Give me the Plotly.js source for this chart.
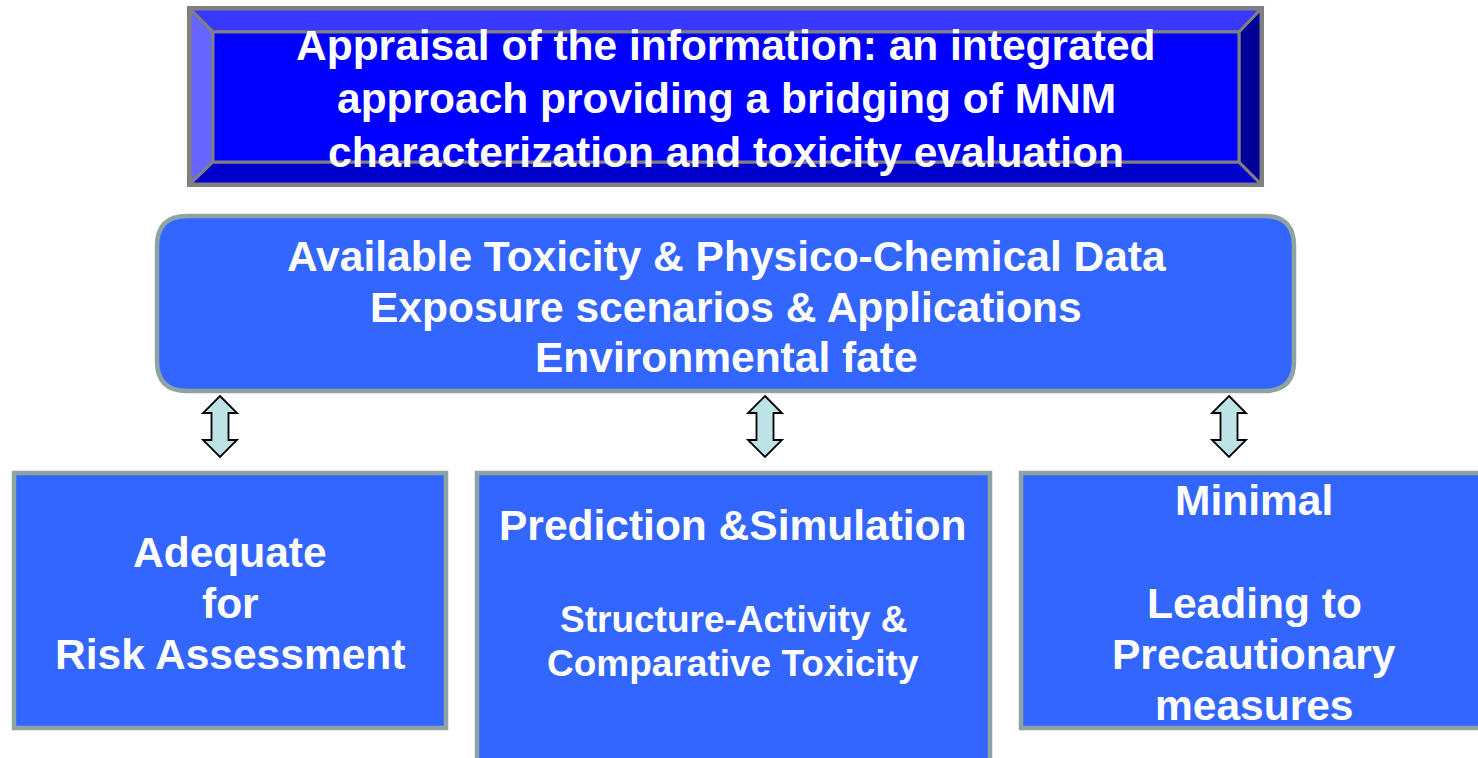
<!DOCTYPE html>
<html>
<head>
<meta charset="utf-8">
<script src="https://cdn.plot.ly/plotly-3.0.1.min.js"></script>
<style>html,body{margin:0;padding:0;background:#fff;}#chart{width:1478px;height:758px;}</style>
</head>
<body>
<div id="chart"></div>
<script>
// ---- text content (data) ----
const titleLines = ["Appraisal of the information: an integrated", "approach providing a bridging of MNM", "characterization and toxicity evaluation"];
const centerLines = ["Available Toxicity & Physico-Chemical Data", "Exposure scenarios & Applications", "Environmental fate"];
const box1Lines = ["Adequate", "for", "Risk Assessment"];
const box2Heading = ["Prediction &Simulation"];
const box2Lines = ["Structure-Activity &", "Comparative Toxicity"];
const box3Lines = ["Minimal", "Leading to", "Precautionary", "measures"];

// ---- layout helpers ----
const FONT = "Liberation Sans, Arial, sans-serif";
const shapes = [];
const annotations = [];

function rectPath(x0, y0, x1, y1) { return `M${x0},${y0} L${x1},${y0} L${x1},${y1} L${x0},${y1} Z`; }
function poly(pts) { return "M" + pts.map(p => p.join(",")).join(" L") + " Z"; }
function addPath(path, fill, lineColor, lineWidth) {
  shapes.push({type: "path", xref: "x", yref: "y", path: path, fillcolor: fill,
    line: {color: lineColor, width: lineWidth}, layer: "above"});
}
function addText(txt, x, y, size) {
  annotations.push({text: txt, x: x, y: y, xref: "x", yref: "y", showarrow: false,
    xanchor: "center", yanchor: "middle",
    font: {family: FONT, size: size, color: "#ffffff", weight: 700}});
}

// Top bevelled box
const gray = "#808080";
addPath(rectPath(187, 6, 1264, 187), gray, gray, 0);
const o = {x0: 190, y0: 9, x1: 1261, y1: 184};
const f = {x0: 213, y0: 32, x1: 1239, y1: 162};
addPath(poly([[o.x0, o.y0], [o.x1, o.y0], [f.x1, f.y0], [f.x0, f.y0]]), "#3838FF", gray, 3);
addPath(poly([[o.x0, o.y0], [f.x0, f.y0], [f.x0, f.y1], [o.x0, o.y1]]), "#6666FF", gray, 3);
addPath(poly([[o.x0, o.y1], [f.x0, f.y1], [f.x1, f.y1], [o.x1, o.y1]]), "#0000CC", gray, 3);
addPath(poly([[o.x1, o.y0], [o.x1, o.y1], [f.x1, f.y1], [f.x1, f.y0]]), "#000099", gray, 3);
addPath(rectPath(f.x0, f.y0, f.x1, f.y1), "#0000FF", gray, 3);

// Central rounded box
const boxFill = "#3366FF", boxLine = "#8FA3A3";
(function () {
  const x0 = 157, y0 = 216, x1 = 1294, y1 = 391, r = 30;
  const p = `M${x0 + r},${y0} L${x1 - r},${y0} Q${x1},${y0} ${x1},${y0 + r} L${x1},${y1 - r} Q${x1},${y1} ${x1 - r},${y1} ` +
            `L${x0 + r},${y1} Q${x0},${y1} ${x0},${y1 - r} L${x0},${y0 + r} Q${x0},${y0} ${x0 + r},${y0} Z`;
  addPath(p, boxFill, boxLine, 4.5);
})();

// Double arrows
[220, 765, 1229].forEach(cx => {
  const top = 396, hb1 = 413, hb2 = 440, bot = 457, hw = 17, sw = 8.5;
  addPath(poly([[cx, top], [cx + hw, hb1], [cx + sw, hb1], [cx + sw, hb2], [cx + hw, hb2], [cx, bot],
                [cx - hw, hb2], [cx - sw, hb2], [cx - sw, hb1], [cx - hw, hb1]]), "#BDE3E6", "#000000", 1.8);
});

// Bottom boxes
addPath(rectPath(14, 473, 446, 728), boxFill, boxLine, 4.5);
addPath(rectPath(477, 473, 990, 800), boxFill, boxLine, 4.5);
addPath(rectPath(1021, 473, 1500, 728), boxFill, boxLine, 4.5);

// Text
const BIG = 42.5, SMALL = 37;
[45, 98, 152].forEach((y, i) => addText(titleLines[i], 726, y, BIG));
[256, 307, 357].forEach((y, i) => addText(centerLines[i], 726, y, BIG));
[552, 603, 654].forEach((y, i) => addText(box1Lines[i], 230, y, BIG));
addText(box2Heading[0], 733, 525, BIG);
[619, 663].forEach((y, i) => addText(box2Lines[i], 733, y, SMALL));
[500, 603, 654, 705].forEach((y, i) => addText(box3Lines[i], 1254, y, BIG));

const layout = {
  width: 1478, height: 758,
  margin: {l: 0, r: 0, t: 0, b: 0, pad: 0},
  paper_bgcolor: "#ffffff", plot_bgcolor: "#ffffff",
  xaxis: {range: [0, 1478], visible: false, fixedrange: true},
  yaxis: {range: [758, 0], visible: false, fixedrange: true},
  showlegend: false,
  shapes: shapes,
  annotations: annotations
};
Plotly.newPlot("chart", [], layout, {displayModeBar: false, staticPlot: true});
</script>
</body>
</html>
